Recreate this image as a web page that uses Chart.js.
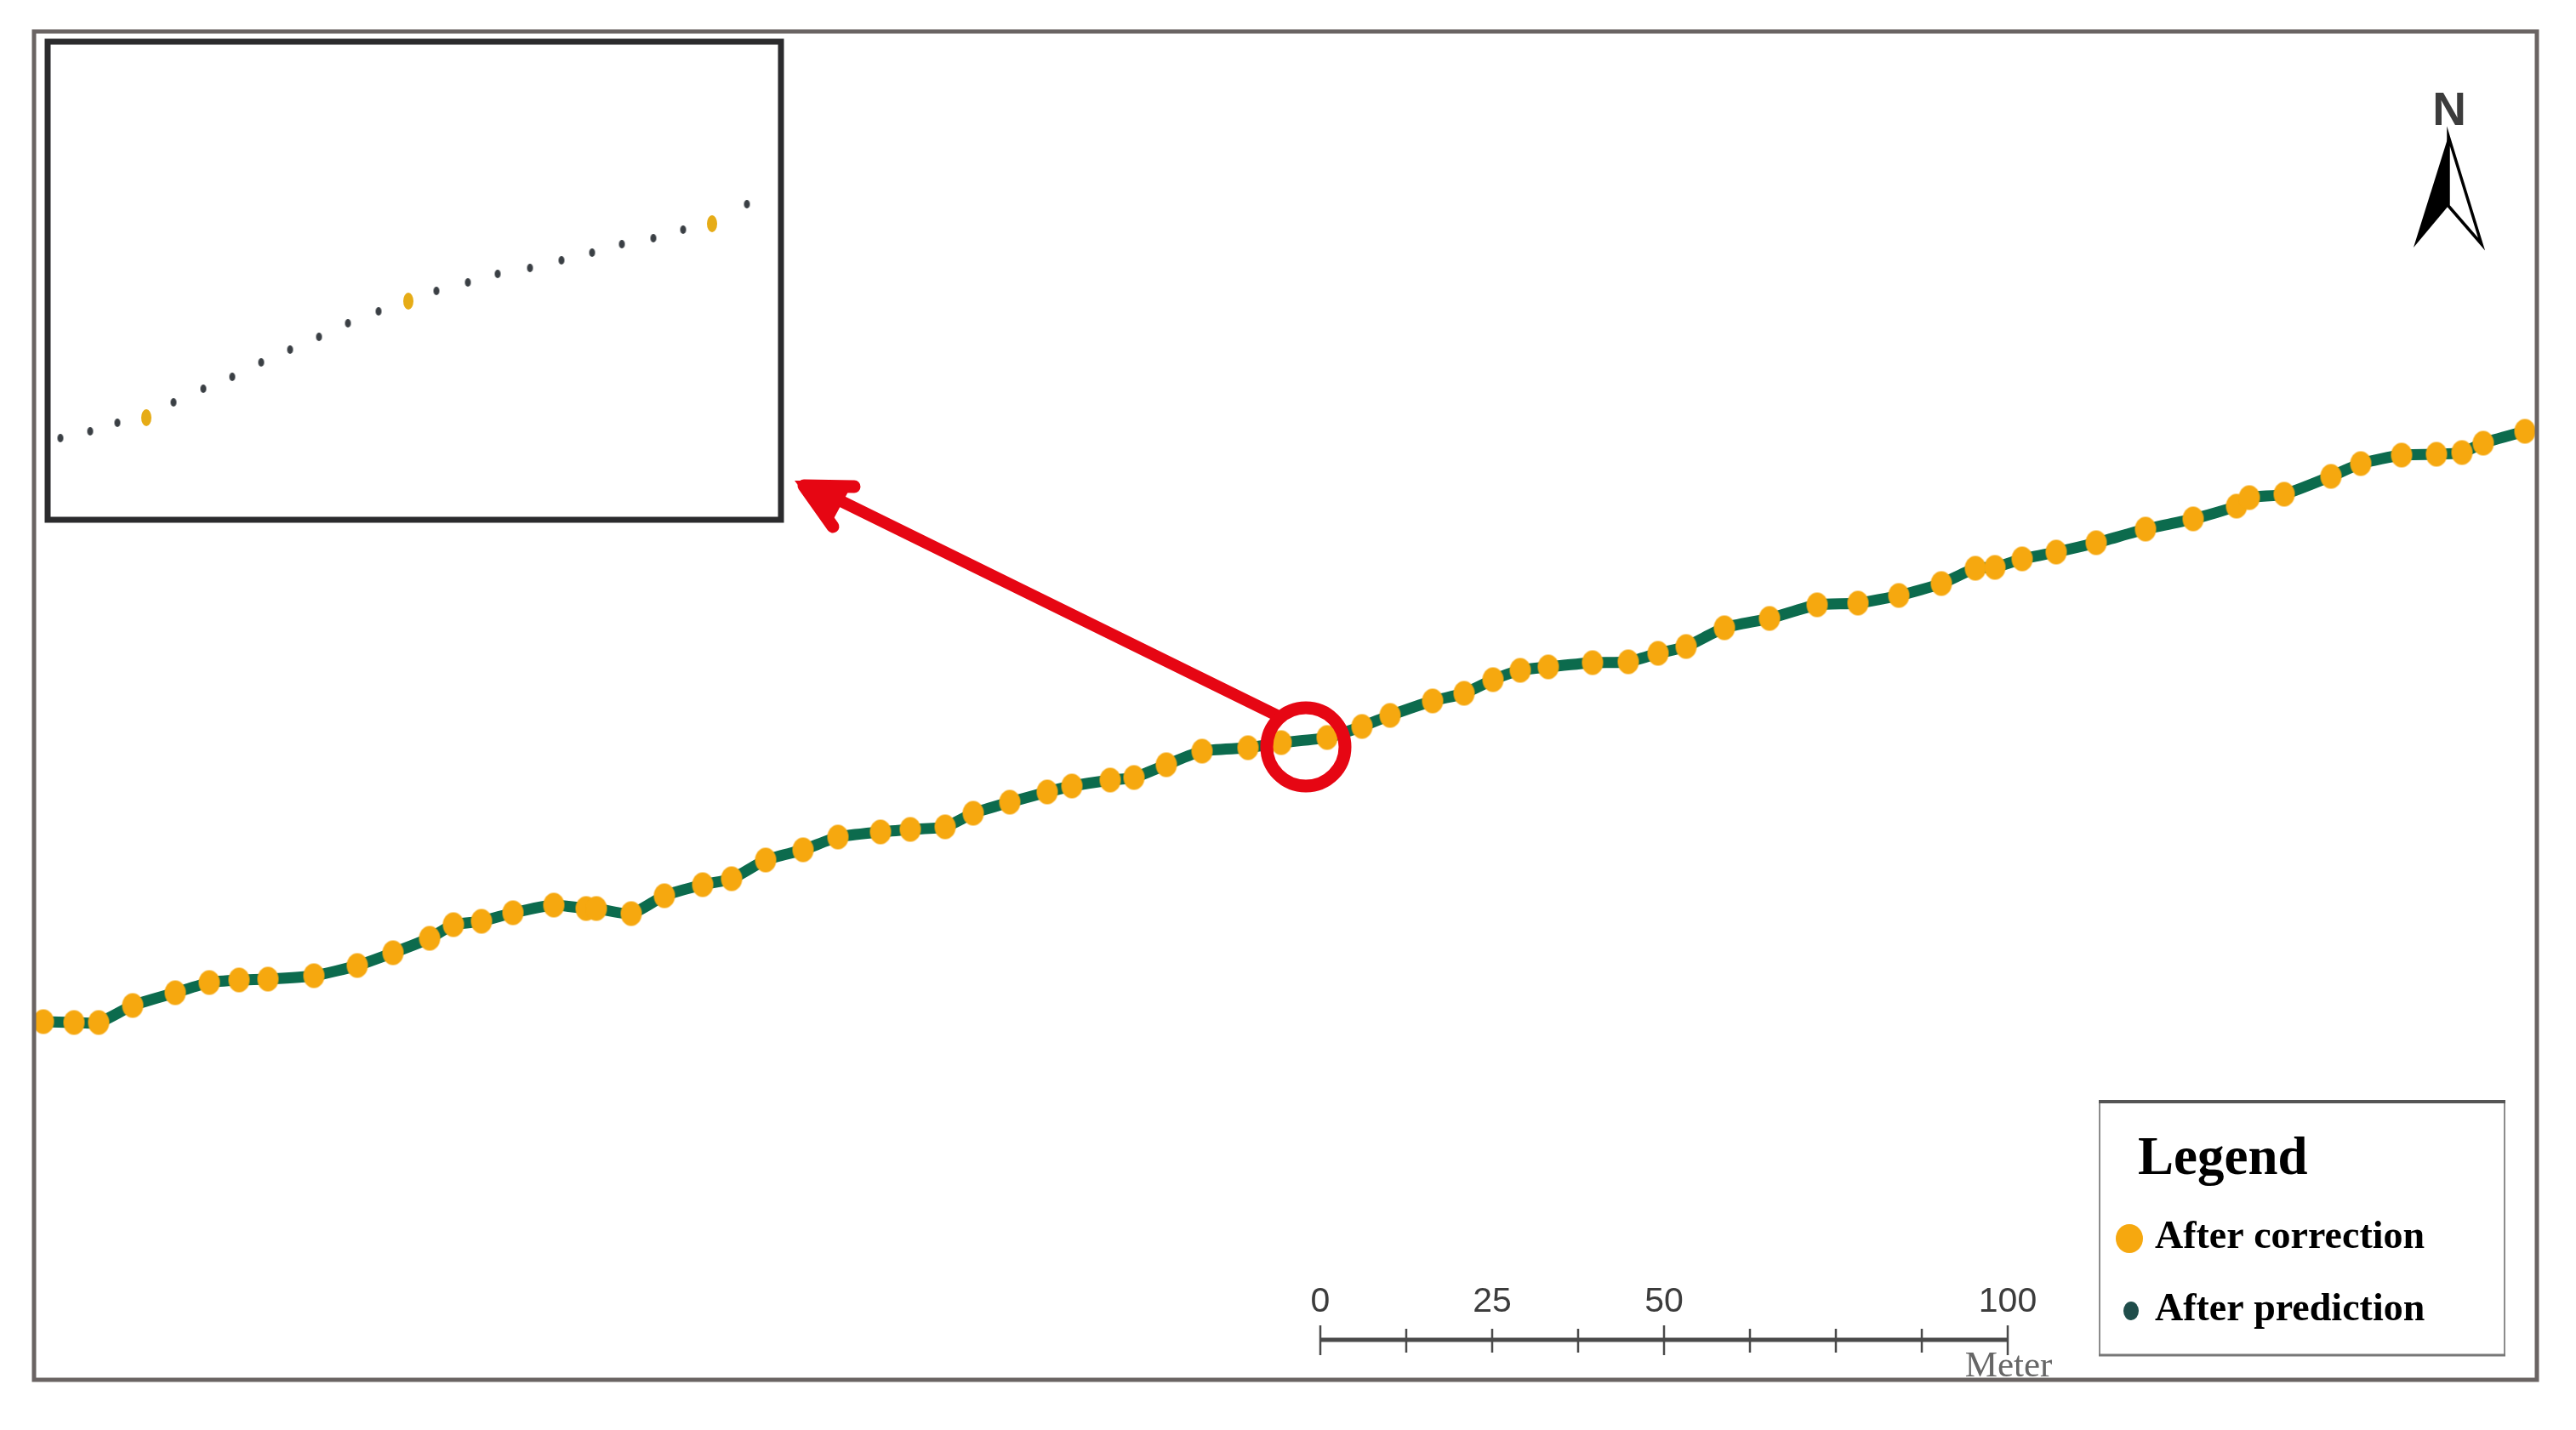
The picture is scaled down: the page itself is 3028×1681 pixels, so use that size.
<!DOCTYPE html>
<html><head><meta charset="utf-8">
<style>html,body{margin:0;padding:0;background:#fff}canvas{display:block}</style>
<script src="https://cdn.jsdelivr.net/npm/chart.js@4/dist/chart.umd.min.js"></script>
</head><body><canvas id="c" width="3028" height="1681"></canvas>
<script>
// Track readings, in map units
const correctionX=[51,87,116,156,206,246,281,315,369,420,462,505,533,566,603,651,689,701,742,781,826,860,900,944,985,1035,1070,1111,1144,1187,1231,1260,1305,1333,1371,1413,1467,1506,1560,1601,1634,1684,1721,1755,1787,1820,1872,1914,1949,1982,2027,2080,2136,2184,2232,2282,2322,2345,2377,2417,2464,2522,2578,2629,2644,2685,2740,2775,2823,2864,2894,2919,2968];
const correctionY=[1201,1202,1202,1182,1167,1155,1152,1151,1147,1135,1120,1103,1087,1083,1073,1064,1068,1068,1074,1053,1040,1033,1011,999,984,978,975,972,956,943,931,924,917,914,899,883,879,873,867,854,841,824,815,799,788,784,779,778,768,760,738,727,711,709,700,686,668,667,657,649,638,622,610,595,585,581,560,545,535,534,532,521,507];
// Enlarged view: predicted and corrected fixes
const insetPredictionX=[71,106,138,204,239,273,307,341,375,409,445,513,550,585,623,660,696,731,768,803,878];
const insetPredictionY=[515,507,497,473,457,443,426,411,396,380,366,342,332,322,315,306,297,287,280,270,240];
const insetCorrectionX=[172,480,837];
const insetCorrectionY=[491,354,263];
// Labels
const legendTitle="Legend";
const seriesNames=["After correction","After prediction"];
const scaleMetres=[0,12.5,25,37.5,50,62.5,75,87.5,100];
const scaleLabels=[0,25,50,100];
const scaleUnit="Meter";
const northLabel="N";

const pairs=(xs,ys)=>xs.map((x,i)=>({x,y:ys[i]}));
function sprite(w,h,color){
  const c=document.createElement('canvas');c.width=w+2;c.height=h+2;
  const g=c.getContext('2d');g.fillStyle=color;g.beginPath();
  g.ellipse((w+2)/2,(h+2)/2,w/2,h/2,0,0,Math.PI*2);g.fill();return c;
}
const ORANGE='#f6a80f',GREEN='#0c6b4d',RED='#e60613',DARK='#3a3f44';
const serif='"Liberation Serif"',sans='"Liberation Sans"';

const backdrop={id:'backdrop',beforeDatasetsDraw(ch){
  const g=ch.ctx;g.save();
  g.strokeStyle='#2b2b2d';g.lineWidth=7;g.strokeRect(56,49,862,562);
  g.restore();
}};
const overlay={id:'overlay',afterDatasetsDraw(ch){
  const g=ch.ctx;g.save();
  // map frame
  g.strokeStyle='#6a6463';g.lineWidth=5;g.strokeRect(40,37,2942,1585);
  // red call-out
  g.strokeStyle=RED;g.fillStyle=RED;g.lineCap='round';g.lineJoin='round';
  g.lineWidth=14;g.beginPath();g.moveTo(960,575);g.lineTo(1503,842);g.stroke();
  g.lineWidth=15;g.beginPath();g.moveTo(1004,572);g.lineTo(945,571);g.lineTo(979,619);g.stroke();
  g.beginPath();g.moveTo(934,565);g.lineTo(1004,565);g.lineTo(975,619);g.closePath();g.fill();
  g.lineWidth=15;g.beginPath();g.arc(1535,878,46,0,Math.PI*2);g.stroke();
  // north arrow
  g.lineJoin='miter';g.lineCap='butt';
  g.fillStyle='#000';g.beginPath();g.moveTo(2878,160);g.lineTo(2837,291);g.lineTo(2878,242);g.closePath();g.fill();
  g.fillStyle='#fff';g.strokeStyle='#000';g.lineWidth=3.5;g.beginPath();g.moveTo(2878,160);g.lineTo(2917,287);g.lineTo(2878,242);g.closePath();g.fill();g.stroke();
  g.fillStyle='#3c3c3c';g.font='bold 55px '+sans;g.textAlign='center';g.textBaseline='alphabetic';g.fillText(northLabel,2879,147);
  // scale bar
  const sx=m=>1552+m*8.08;
  g.strokeStyle='#4a4a4a';g.lineWidth=5;g.beginPath();g.moveTo(sx(0),1575);g.lineTo(sx(100),1575);g.stroke();
  g.lineWidth=2.5;
  scaleMetres.forEach(m=>{const long=m%50===0;g.beginPath();g.moveTo(sx(m),long?1558:1562);g.lineTo(sx(m),long?1593:1590);g.stroke();});
  g.fillStyle='#3c3c3c';g.font='41px '+sans;g.textAlign='center';
  scaleLabels.forEach(m=>g.fillText(String(m),sx(m),1542));
  g.fillStyle='#666';g.font='43px '+serif;g.fillText(scaleUnit,2361,1618);
  // legend
  g.fillStyle='#fff';g.fillRect(2468,1295,476,298);
  g.strokeStyle='#8c8c8c';g.lineWidth=2;g.strokeRect(2468,1295,476,298);
  g.strokeStyle='#555';g.lineWidth=4;g.beginPath();g.moveTo(2467,1295);g.lineTo(2945,1295);g.stroke();
  g.strokeStyle='#777';g.lineWidth=3;g.beginPath();g.moveTo(2467,1593);g.lineTo(2945,1593);g.stroke();
  g.fillStyle='#000';g.textAlign='left';
  g.font='bold 63px '+serif;g.fillText(legendTitle,2513,1380);
  g.font='bold 46px '+serif;
  g.fillText(seriesNames[0],2533,1467);g.fillText(seriesNames[1],2533,1552);
  g.fillStyle=ORANGE;g.beginPath();g.ellipse(2503,1456,16,17,0,0,Math.PI*2);g.fill();
  g.fillStyle='#1f4d4a';g.beginPath();g.ellipse(2505,1541,9,11,0,0,Math.PI*2);g.fill();
  g.restore();
}};

new Chart(document.getElementById('c'),{
  type:'scatter',
  data:{datasets:[
    {label:'track',order:3,data:pairs(correctionX,correctionY),showLine:true,borderColor:GREEN,borderWidth:13,tension:0.2,pointRadius:0,clip:0},
    {label:seriesNames[0],order:2,data:pairs(correctionX,correctionY),showLine:false,pointStyle:sprite(25,29,ORANGE),pointRadius:14,clip:0},
    {label:seriesNames[1]+' (enlarged)',order:1,data:pairs(insetPredictionX,insetPredictionY),showLine:false,pointStyle:sprite(7,10,DARK),pointRadius:5,clip:0},
    {label:seriesNames[0]+' (enlarged)',order:0,data:pairs(insetCorrectionX,insetCorrectionY),showLine:false,pointStyle:sprite(12,20,'#e6ac17'),pointRadius:10,clip:0}
  ]},
  options:{
    responsive:false,animation:false,devicePixelRatio:1,
    layout:{padding:{left:42,right:48,top:39,bottom:61}},
    plugins:{legend:{display:false},title:{display:false},tooltip:{enabled:false}},
    scales:{
      x:{type:'linear',display:false,min:42,max:2980},
      y:{type:'linear',display:false,min:39,max:1620,reverse:true}
    }
  },
  plugins:[backdrop,overlay]
});
</script></body></html>
